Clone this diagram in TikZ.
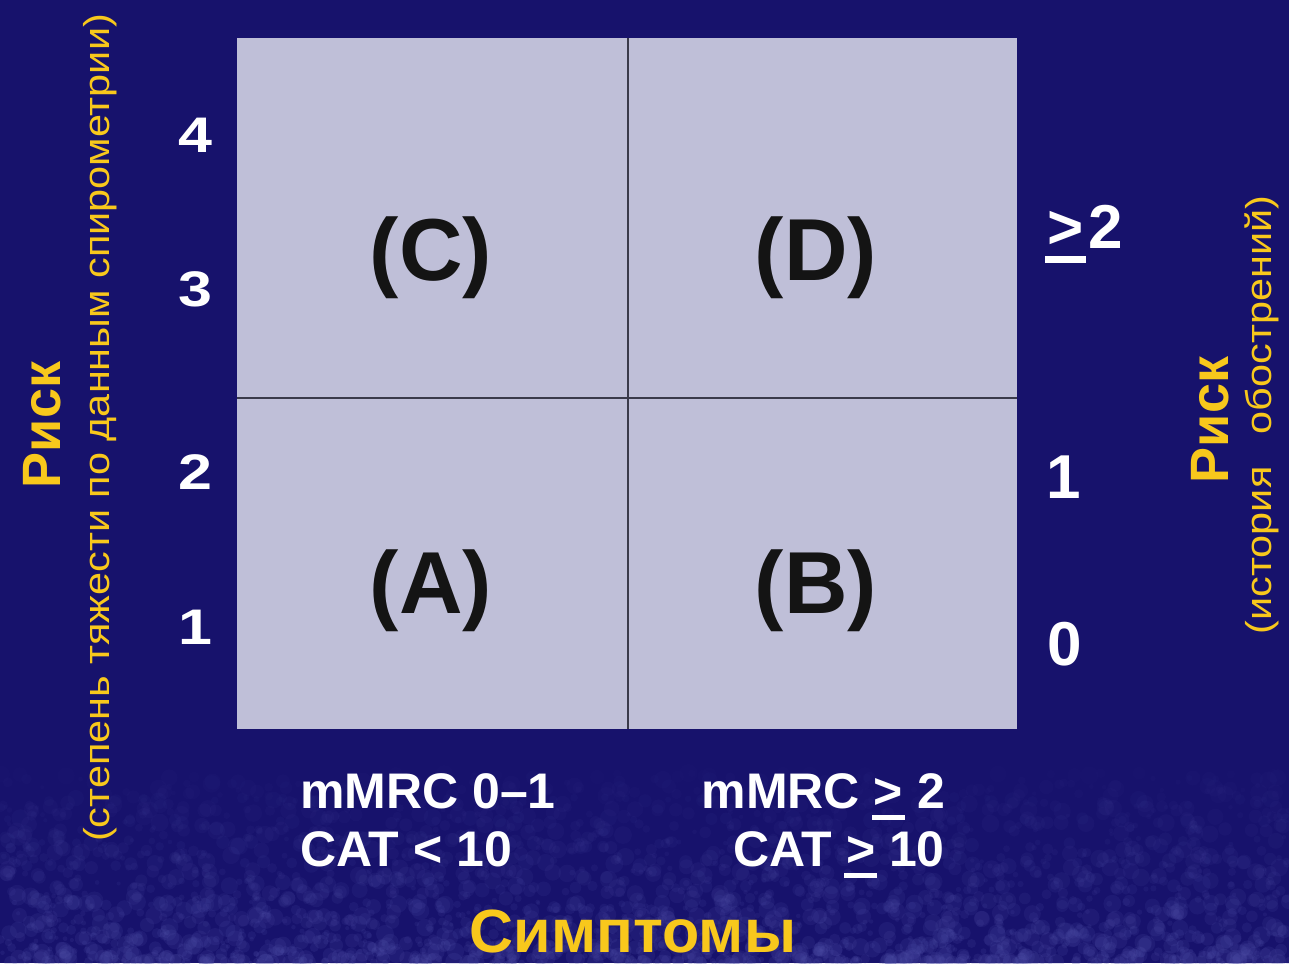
\documentclass[tikz,border=0pt]{standalone}
\usepackage{fontspec}
\setmainfont{Liberation Sans}
\newfontfamily\widefont[FakeStretch=1.15]{Liberation Sans}
\newfontfamily\broadfont[FakeStretch=1.22]{Liberation Sans}
\definecolor{navy}{HTML}{17126C}
\definecolor{haze}{HTML}{5050A8}
\definecolor{cellfill}{HTML}{BFBFD8}
\definecolor{gridline}{HTML}{3A3A4A}
\definecolor{riskyellow}{HTML}{F8C81C}
\definecolor{inkdark}{HTML}{141414}
% ">" with a thick bar beneath it, used as a greater-or-equal sign
\newsavebox{\gtbox}
\newcommand{\geqbar}{\leavevmode\sbox{\gtbox}{>}%
  \rlap{\kern-0.04em\rule[-0.24em]{\dimexpr\wd\gtbox+0.08em\relax}{0.11em}}\usebox{\gtbox}}
\begin{document}
\begin{tikzpicture}[x=1pt,y=-1pt,
  quadlabel/.style={font=\fontsize{88}{92}\selectfont\bfseries, text=inkdark, inner sep=0pt, anchor=base},
  gradenum/.style={font=\broadfont\fontsize{50}{54}\selectfont\bfseries, text=white, inner sep=0pt, anchor=base},
  countnum/.style={font=\fontsize{62}{66}\selectfont\bfseries, text=white, inner sep=0pt, anchor=base},
  axistitle/.style={font=\fontsize{54}{58}\selectfont\bfseries, text=riskyellow, inner sep=0pt, rotate=90},
  axisnote/.style={font=\widefont\fontsize{36}{40}\selectfont, text=riskyellow, inner sep=0pt, rotate=90},
  critline/.style={font=\fontsize{50}{54}\selectfont\bfseries, text=white, inner sep=0pt},
  divider/.style={draw=gridline, line width=2pt}]
\useasboundingbox (0,0) rectangle (1289,963);
% background with a grainy lighter band along the bottom
\fill[navy] (0,0) rectangle (1289,963);
\pgfmathsetseed{11}
\foreach \i in {1,...,2600}{
  \pgfmathsetmacro{\xx}{rnd*1289}
  \pgfmathsetmacro{\yy}{963-pow(rnd,1.5)*190}
  \pgfmathsetmacro{\rr}{2+rnd*7}
  \pgfmathsetmacro{\op}{0.03+0.15*(\yy-773)/190}
  \fill[haze, opacity=\op] (\xx,\yy) circle (\rr);
}
% the four quadrants
\fill[cellfill] (237,38) rectangle (1017,729);
\coordinate (vtop) at (628,38);
\coordinate (vbot) at (628,729);
\coordinate (hleft) at (237,398);
\coordinate (hright) at (1017,398);
\draw[divider] (vtop) -- (vbot);
\draw[divider] (hleft) -- (hright);
\node[quadlabel] (qc) at (431,280) {(C)};
\node[quadlabel] (qd) at (816,280) {(D)};
\node[quadlabel] (qa) at (431,613) {(A)};
\node[quadlabel] (qb) at (816,613) {(B)};
% spirometry grades on the left
\node[gradenum] (g4) at (195,152) {4};
\node[gradenum] (g3) at (195,306) {3};
\node[gradenum] (g2) at (195,489) {2};
\node[gradenum] (g1) at (195,644) {1};
% exacerbation counts on the right
\node[countnum] (e2) at (1085,248) {\geqbar\kern0.08em2};
\node[countnum] (e1) at (1064,498) {1};
\node[countnum] (e0) at (1065,665) {0};
% axis titles
\node[axistitle] (riskL) at (42,425) {Риск};
\node[axisnote] (noteL) at (100,428) {(степень тяжести по данным спирометрии)};
\node[axistitle] (riskR) at (1210,420) {Риск};
\node[axisnote] (noteR) at (1262,415) {(история\hspace{0.9em}обострений)};
% symptom criteria
\node[critline, anchor=base west] (m1) at (300,808) {mMRC 0–1};
\node[critline, anchor=base west] (c1) at (300,866) {CAT < 10};
\node[critline, anchor=base east] (m2) at (945,808) {mMRC \geqbar\ 2};
\node[critline, anchor=base east] (c2) at (945,866) {CAT \geqbar\ 10};
\node[font=\fontsize{61}{64}\selectfont\bfseries, text=riskyellow, inner sep=0pt, anchor=base] (symp) at (633,952) {Симптомы};
\end{tikzpicture}
\end{document}
